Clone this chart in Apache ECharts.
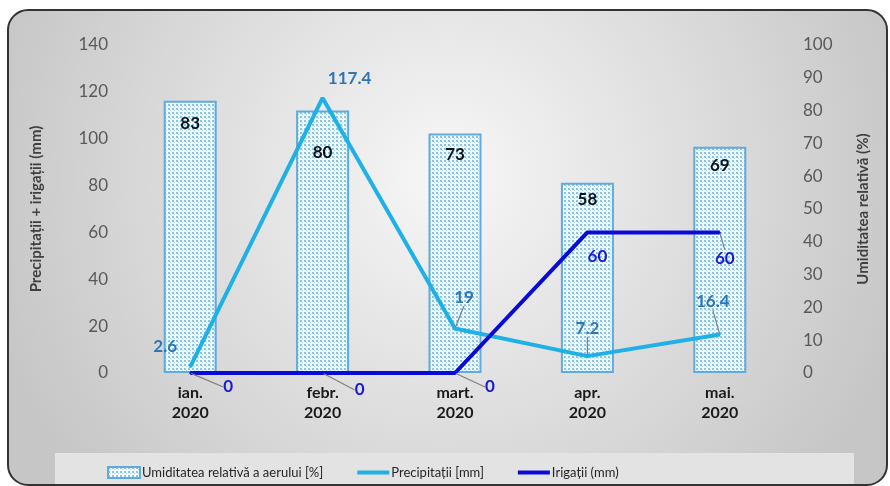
<!DOCTYPE html>
<html>
<head>
<meta charset="utf-8">
<script src="https://cdn.jsdelivr.net/npm/echarts@6/dist/echarts.min.js"></script>
<style>
html,body{margin:0;padding:0;background:#ffffff;}
#chart{width:890px;height:486px;}
</style>
</head>
<body>
<div id="chart"></div>
<script>
// ---- data ----
var categories = ['ian.\n2020', 'febr.\n2020', 'mart.\n2020', 'apr.\n2020', 'mai.\n2020'];
var humidity = [83, 80, 73, 58, 69];
var precipitation = [2.6, 117.4, 19, 7.2, 16.4];
var irrigation = [0, 0, 0, 60, 60];
var leftTicks = {min: 0, max: 140, interval: 20};
var rightTicks = {min: 0, max: 100, interval: 10};
var seriesNames = ['Umiditatea relativă a aerului [%]', 'Precipitații [mm]', 'Irigații (mm)'];
var leftAxisName = 'Precipitații + irigații (mm)';
var rightAxisName = 'Umiditatea relativă (%)';

// ---- styles ----
var FONT = 'Lato, "Open Sans", sans-serif';
var barLabelDist = [14, 33, 12, 8, 10];
var precipOffsets = [[-25, -20], [27, -19], [9, -31], [0, -28], [-7, -33]];
var precipLeader = [false, false, true, true, true];
var irrOffsets = [[38, 14], [37, 17], [35, 14], [10, 24], [5, 26]];
var irrLeader = [true, true, true, false, true];

// dotted pattern for bars
var pc = document.createElement('canvas');
pc.width = 4; pc.height = 4;
var pctx = pc.getContext('2d');
pctx.fillStyle = '#f4fafe';
pctx.fillRect(0, 0, 4, 4);
pctx.fillStyle = '#86c6ec';
pctx.fillRect(0, 0, 2, 2);
pctx.fillStyle = '#a6d5f1';
pctx.fillRect(2, 2, 1, 1);

var chart = echarts.init(document.getElementById('chart'), null, {renderer: 'canvas'});

var barData = humidity.map(function (v, i) {
  return {value: v, label: {distance: barLabelDist[i]}};
});
var precipData = precipitation.map(function (v, i) {
  return {value: v, labelLine: {show: precipLeader[i]}};
});
var irrData = irrigation.map(function (v, i) {
  return {value: v, labelLine: {show: irrLeader[i]}};
});

var lineIcon = 'path://M0,0L0.01,0L0.01,0.01Z M0,3.5L32,3.5L32,7.5L0,7.5Z M0,11L0.01,11L0.01,10.99Z';

var option = {
  animation: false,
  backgroundColor: 'transparent',
  graphic: [
    {
      type: 'rect', z: -10, silent: true,
      shape: {x: 8, y: 10, width: 879, height: 475, r: 20},
      style: {
        fill: {
          type: 'radial', x: 0.5, y: 0.35, r: 1.0,
          colorStops: [{offset: 0, color: '#f7f7f7'}, {offset: 1, color: '#c6c6c6'}]
        },
        stroke: '#333333', lineWidth: 2
      }
    },
    {
      type: 'rect', z: -9, silent: true,
      shape: {x: 55, y: 453, width: 799, height: 31},
      style: {fill: '#e3e3e3'}
    }
  ],
  grid: {left: 124, right: 104, top: 45, bottom: 113, containLabel: false},
  legend: {
    left: 102, top: 461,
    itemWidth: 32, itemHeight: 11, itemGap: 34,
    textStyle: {fontFamily: FONT, fontSize: 13, color: '#262626', padding: [0, 0, 0, -3]},
    data: [
      {name: seriesNames[0], icon: 'rect'},
      {name: seriesNames[1], icon: lineIcon},
      {name: seriesNames[2], icon: lineIcon}
    ]
  },
  xAxis: {
    type: 'category',
    data: categories,
    axisLine: {show: false},
    axisTick: {show: false},
    splitLine: {show: false},
    axisLabel: {
      margin: 10, fontFamily: FONT, fontSize: 16, fontWeight: 'bold',
      color: '#1a1a1a', lineHeight: 20
    }
  },
  yAxis: [
    {
      type: 'value', position: 'left',
      min: leftTicks.min, max: leftTicks.max, interval: leftTicks.interval,
      name: leftAxisName, nameLocation: 'middle', nameGap: 80, nameRotate: 90,
      nameTextStyle: {fontFamily: FONT, fontSize: 15, fontWeight: 'bold', color: '#404040'},
      axisLine: {show: false}, axisTick: {show: false}, splitLine: {show: false},
      axisLabel: {margin: 16, fontFamily: FONT, fontSize: 17, color: '#595959'}
    },
    {
      type: 'value', position: 'right',
      min: rightTicks.min, max: rightTicks.max, interval: rightTicks.interval,
      name: rightAxisName, nameLocation: 'middle', nameGap: 70, nameRotate: 90,
      nameTextStyle: {fontFamily: FONT, fontSize: 15, fontWeight: 'bold', color: '#404040'},
      axisLine: {show: false}, axisTick: {show: false}, splitLine: {show: false},
      axisLabel: {margin: 17, fontFamily: FONT, fontSize: 17, color: '#595959'}
    }
  ],
  series: [
    {
      name: seriesNames[0],
      type: 'bar',
      yAxisIndex: 1,
      barWidth: 53,
      data: barData,
      itemStyle: {
        color: {image: pc, repeat: 'repeat'},
        borderColor: '#62a9dc', borderWidth: 2
      },
      label: {
        show: true, position: 'insideTop',
        fontFamily: FONT, fontSize: 17, fontWeight: 'bold', color: '#111111'
      },
      z: 1
    },
    {
      name: seriesNames[1],
      type: 'line',
      yAxisIndex: 0,
      data: precipData,
      symbol: 'circle', symbolSize: 2,
      lineStyle: {color: '#1fb1e6', width: 4},
      itemStyle: {color: '#1fb1e6'},
      label: {
        show: true, position: 'inside',
        fontFamily: FONT, fontSize: 17, fontWeight: 'bold', color: '#2e75b6'
      },
      labelLine: {show: false, lineStyle: {color: '#7f7f7f', width: 1.2}},
      labelLayout: function (p) {
        var o = precipOffsets[p.dataIndex];
        return {dx: o[0], dy: o[1]};
      },
      z: 3
    },
    {
      name: seriesNames[2],
      type: 'line',
      yAxisIndex: 0,
      data: irrData,
      symbol: 'circle', symbolSize: 2,
      lineStyle: {color: '#0a0ad6', width: 4},
      itemStyle: {color: '#0a0ad6'},
      label: {
        show: true, position: 'inside',
        fontFamily: FONT, fontSize: 17, fontWeight: 'bold', color: '#1c1cd0'
      },
      labelLine: {show: false, lineStyle: {color: '#7f7f7f', width: 1.2}},
      labelLayout: function (p) {
        var o = irrOffsets[p.dataIndex];
        return {dx: o[0], dy: o[1]};
      },
      z: 4
    }
  ]
};
chart.setOption(option);
</script>
</body>
</html>
